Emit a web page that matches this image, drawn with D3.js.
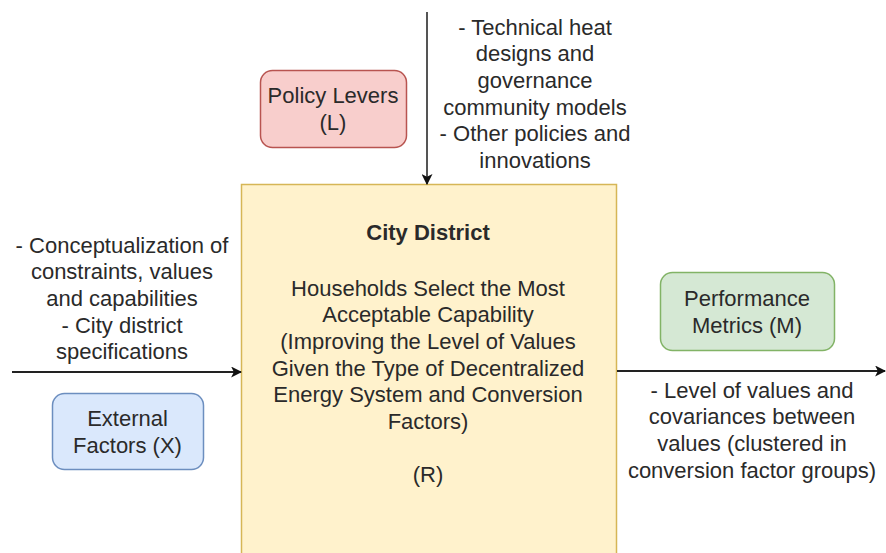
<html lang="en"><head>
<meta http-equiv="Content-Type" content="text/html; charset=UTF-8">
<title>City District Framework</title>
<script type="text/javascript" src="https://cdn.jsdelivr.net/npm/d3@7"></script>
<style type="text/css">
body { margin: 0; background: #fff; }
text { font-family: "Liberation Sans", Arial, Helvetica, sans-serif; fill: #2a2a2a; }
</style>
</head>
<body>

<script type="text/javascript">

var width = 886;
var height = 553;
var lineHeight = 26.6;

// box texts
var policyText = ["Policy Levers", "(L)"];
var externalText = ["External", "Factors (X)"];
var metricsText = ["Performance", "Metrics (M)"];
var districtTitle = "City District";
var districtText = ["Households Select the Most", "Acceptable Capability",
  "(Improving the Level of Values", "Given the Type of Decentralized",
  "Energy System and Conversion", "Factors)", "", "(R)"];

// arrow labels
var topLabel = ["- Technical heat", "designs and", "governance",
  "community models", "- Other policies and", "innovations"];
var leftLabel = ["- Conceptualization of", "constraints, values",
  "and capabilities", "- City district", "specifications"];
var rightLabel = ["- Level of values and", "covariances between",
  "values (clustered in", "conversion factor groups)"];

var svg = d3.select("body")
            .append("svg")
            .attr("width", width)
            .attr("height", height);

svg.append("defs").append("marker")
   .attr("id", "head")
   .attr("viewBox", "0 0 10 10")
   .attr("refX", 9).attr("refY", 5)
   .attr("markerWidth", 11).attr("markerHeight", 11)
   .attr("markerUnits", "userSpaceOnUse")
   .attr("orient", "auto")
   .append("path")
   .attr("d", "M0,0 L10,5 L0,10 L2.5,5 Z")
   .attr("fill", "#111");

// main box
svg.append("rect")
   .attr("x", 241.5).attr("y", 184.5)
   .attr("width", 375).attr("height", 400)
   .attr("fill", "#fff2cc")
   .attr("stroke", "#d6b656")
   .attr("stroke-width", 1.5);

var smallBoxes = [
  {lines: policyText, x: 260, y: 70, w: 146, h: 77, fill: "#f8cecc", stroke: "#b85450"},
  {lines: externalText, x: 52, y: 393, w: 151, h: 76, fill: "#dae8fc", stroke: "#6c8ebf"},
  {lines: metricsText, x: 660, y: 272, w: 174, h: 78, fill: "#d5e8d4", stroke: "#82b366"}
];

svg.selectAll(".sbox")
   .data(smallBoxes).enter()
   .append("rect")
   .attr("class", "sbox")
   .attr("x", (d) => d.x + 0.5)
   .attr("y", (d) => d.y + 0.5)
   .attr("width", (d) => d.w)
   .attr("height", (d) => d.h)
   .attr("rx", 12).attr("ry", 12)
   .attr("fill", (d) => d.fill)
   .attr("stroke", (d) => d.stroke)
   .attr("stroke-width", 1.5);

smallBoxes.forEach(function(b){
  drawLines(b.lines, b.x + b.w / 2, b.y + b.h / 2 - lineHeight / 2 + 0.5);
});

// arrows
var arrows = [
  {x1: 427, y1: 12, x2: 427, y2: 184, color: "#555"},
  {x1: 12, y1: 372, x2: 241, y2: 372, color: "#222"},
  {x1: 617, y1: 371, x2: 885, y2: 371, color: "#222"}
];

svg.selectAll(".arrow")
   .data(arrows).enter()
   .append("line")
   .attr("class", "arrow")
   .attr("x1", (d) => d.x1).attr("y1", (d) => d.y1)
   .attr("x2", (d) => d.x2).attr("y2", (d) => d.y2)
   .attr("stroke", (d) => d.color)
   .attr("stroke-width", 2)
   .attr("marker-end", "url(#head)");

// district text
svg.append("text")
   .attr("x", 428).attr("y", 232)
   .attr("dy", "0.35em")
   .attr("text-anchor", "middle")
   .attr("font-size", 22)
   .attr("font-weight", "bold")
   .text(districtTitle);

drawLines(districtText, 428, 288);
drawLines(topLabel, 535, 27);
drawLines(leftLabel, 122, 245);
drawLines(rightLabel, 752, 390);

function drawLines(lines, cx, y0){
  svg.append("g")
     .selectAll("text")
     .data(lines).enter()
     .append("text")
     .attr("x", cx)
     .attr("y", (d, i) => y0 + i * lineHeight)
     .attr("dy", "0.35em")
     .attr("text-anchor", "middle")
     .attr("font-size", 22)
     .text((d) => d);
}

</script>
</body></html>
